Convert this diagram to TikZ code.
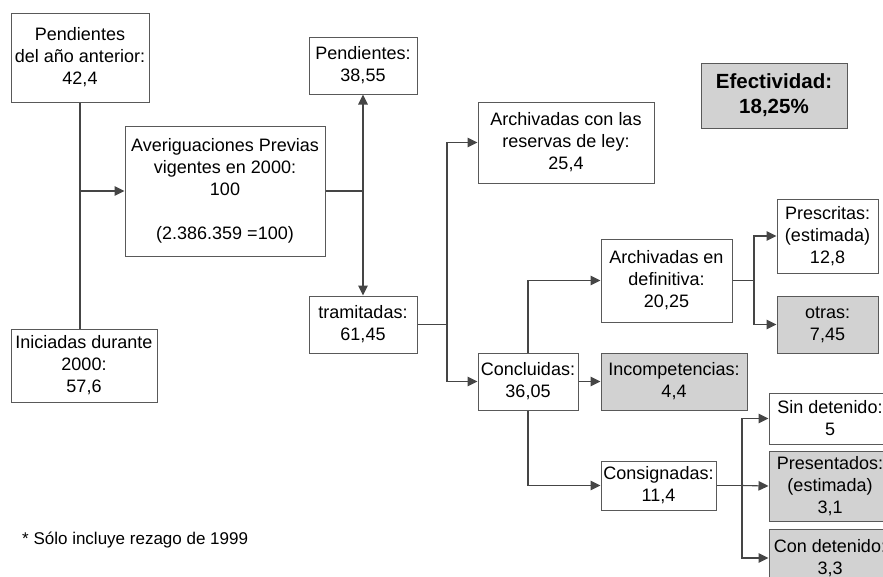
\documentclass[tikz,border=0pt]{standalone}
\usepackage{fontspec}
\setmainfont{Liberation Sans}
\usetikzlibrary{arrows.meta}
\definecolor{boxgray}{HTML}{D2D2D2}
\definecolor{linegray}{HTML}{454545}
\tikzset{
  caja/.style={draw=black!65, line width=1pt, align=center, inner sep=0pt,
    font=\fontsize{18}{22}\selectfont},
  cajagris/.style={caja, fill=boxgray},
  flecha/.style={-{Triangle[length=10pt,width=9.5pt]}, draw=linegray, line width=1.1pt},
  linea/.style={draw=linegray, line width=1.1pt}
}
\begin{document}
\begin{tikzpicture}[x=1pt,y=-1pt]
\clip (0,0) rectangle (883,576);
\fill[white] (0,0) rectangle (883,576);
\path
(80,57.5) node[caja, minimum width=138, minimum height=89] (pendant) {Pendientes\\del año anterior:\\42,4}
(84,365.5) node[caja, minimum width=146, minimum height=73] (inic) {Iniciadas durante\\2000:\\57,6}
(225,191) node[caja, minimum width=200, minimum height=130] (averig) {Averiguaciones Previas\\vigentes en 2000:\\100\\[22pt](2.386.359 =100)}
(363,65.5) node[caja, minimum width=108, minimum height=57] (pend) {Pendientes:\\38,55}
(363,324.5) node[caja, minimum width=108, minimum height=57] (tram) {tramitadas:\\61,45}
(566,142.5) node[caja, minimum width=176, minimum height=81] (reserv) {Archivadas con las\\reservas de ley:\\25,4}
(774,95.5) node[cajagris, minimum width=146, minimum height=65,
  font=\bfseries\fontsize{20.5}{25}\selectfont] (efect) {Efectividad:\\18,25\%}
(528,381.5) node[caja, minimum width=100, minimum height=57] (concl) {Concluidas:\\36,05}
(666.5,280.5) node[caja, minimum width=131, minimum height=83] (defin) {Archivadas en\\definitiva:\\20,25}
(674,381.5) node[cajagris, minimum width=146, minimum height=57] (incomp) {Incompetencias:\\4,4}
(658.5,485.5) node[caja, minimum width=115, minimum height=49] (consig) {Consignadas:\\11,4}
(827.5,236) node[caja, minimum width=101, minimum height=74] (presc) {Prescritas:\\(estimada)\\12,8}
(827.5,324.5) node[cajagris, minimum width=101, minimum height=57] (otras) {otras:\\7,45}
(830,418.5) node[caja, minimum width=122, minimum height=51] (sindet) {Sin detenido:\\5}
(830,486) node[cajagris, minimum width=122, minimum height=70] (present) {Presentados:\\(estimada)\\3,1}
(830,558) node[cajagris, minimum width=122, minimum height=58] (condet) {Con detenido:\\3,3}
(22,540) node[anchor=west, inner sep=0pt, font=\fontsize{17}{20}\selectfont] (nota) {* Sólo incluye rezago de 1999};
% puntos de union
\path
(363,191) coordinate (j-averig)
(447,324.5) coordinate (j-tram)
(754,280.5) coordinate (j-defin)
(742,485.5) coordinate (j-consig);
% entradas
\draw[linea] (pendant.south) -- (pendant.south |- inic.north);
\draw[flecha] (pendant.south |- averig.west) -- (averig.west);
% vigentes
\draw[linea] (averig.east) -- (j-averig);
\draw[flecha] (j-averig) -- (pend.south);
\draw[flecha] (j-averig) -- (tram.north);
% tramitadas
\draw[linea] (tram.east) -- (j-tram);
\draw[flecha] (j-tram) |- (reserv.west);
\draw[flecha] (j-tram) |- (concl.west);
% concluidas
\draw[flecha] (concl.north) |- (defin.west);
\draw[flecha] (concl.east) -- (incomp.west);
\draw[flecha] (concl.south) |- (consig.west);
% archivadas en definitiva
\draw[linea] (defin.east) -- (j-defin);
\draw[flecha] (j-defin) |- (presc.west);
\draw[flecha] (j-defin) |- (otras.west);
% consignadas
\draw[linea] (consig.east) -- (j-consig);
\draw[flecha] (j-consig) |- (sindet.west);
\draw[flecha] (j-consig) -- (present.west);
\draw[flecha] (j-consig) |- (condet.west);
\end{tikzpicture}
\end{document}
